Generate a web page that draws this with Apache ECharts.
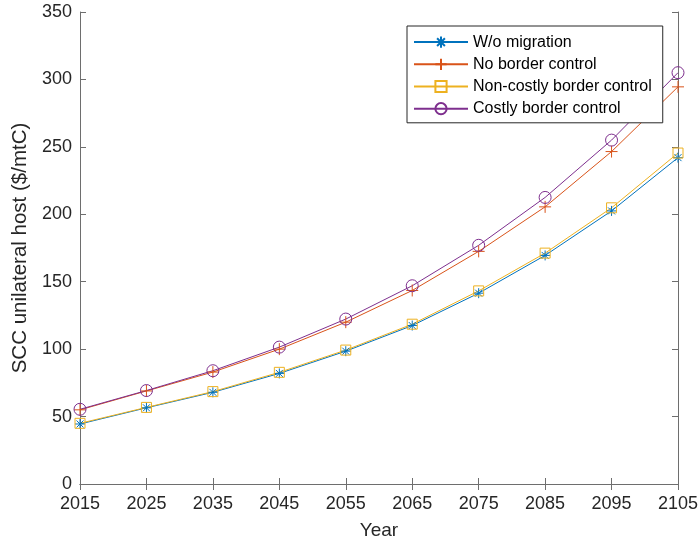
<!DOCTYPE html>
<html>
<head>
<meta charset="utf-8">
<script src="https://cdn.jsdelivr.net/npm/echarts@6/dist/echarts.min.js"></script>
<style>html,body{margin:0;padding:0;background:#fff}#c{width:698px;height:540px}</style>
</head>
<body>
<div id="c"></div>
<script>
const years = ['2015','2025','2035','2045','2055','2065','2075','2085','2095','2105'];
const woMigration = [44.5, 56.5, 68, 82, 98.5, 117.5, 141.5, 169.5, 202.5, 242];
const noBorderControl = [55, 69, 83, 100, 120, 143.5, 172.5, 205.5, 246.5, 294.5];
const nonCostlyBorderControl = [45, 56.8, 68.5, 82.8, 99.3, 118.5, 143.2, 171.2, 204.8, 245.4];
const costlyBorderControl = [55.4, 69.3, 84, 101.5, 122.3, 147, 177, 212.5, 255, 305];
const yTicks = [0, 50, 100, 150, 200, 250, 300, 350];

const FONT = 'Liberation Sans, Arial, Helvetica, sans-serif';
const AXC = '#6e6e6e';
const TXC = '#262626';

const starPath = 'path://M5,0L5,10M0,5L10,5M1.5,1.5L8.5,8.5M1.5,8.5L8.5,1.5';
const plusPath = 'path://M5,0L5,10M0,5L10,5';

function mk(name, data, color, symbol, size) {
  return {
    name, type: 'line', data, xAxisIndex: 0, yAxisIndex: 0,
    symbol, symbolSize: size, showAllSymbol: true,
    color,
    lineStyle: { color, width: 1 },
    itemStyle: { color: 'none', borderColor: color, borderWidth: 1 },
    emphasis: { disabled: true },
    animation: false
  };
}

const chart = echarts.init(document.getElementById('c'), null, { renderer: 'canvas' });
chart.setOption({
  backgroundColor: '#fff',
  animation: false,
  textStyle: { fontFamily: FONT },
  grid: { left: 80, right: 20, top: 12, bottom: 56, containLabel: false, outerBoundsMode: 'none' },
  legend: {
    orient: 'vertical', left: 407, top: 26,
    padding: [8, 11, 6, 6], itemGap: 6,
    itemWidth: 54, itemHeight: 14,
    backgroundColor: '#fff', borderColor: '#262626', borderWidth: 1,
    textStyle: { fontFamily: FONT, fontSize: 16, color: '#000' },
    data: ['W/o migration', 'No border control', 'Non-costly border control', 'Costly border control']
  },
  xAxis: [{
    type: 'category', data: years, boundaryGap: false,
    name: 'Year', nameLocation: 'middle', nameGap: 37,
    nameTextStyle: { fontFamily: FONT, fontSize: 19, color: TXC },
    axisLine: { lineStyle: { color: AXC, width: 1 } },
    axisTick: { inside: true, length: 6, alignWithLabel: true, lineStyle: { color: AXC } },
    axisLabel: { fontFamily: FONT, fontSize: 18, color: TXC, margin: 11, interval: 0 },
    splitLine: { show: false }
  }, {
    type: 'category', data: years, boundaryGap: false, position: 'top',
    axisLine: { lineStyle: { color: AXC, width: 1 } },
    axisTick: { inside: true, length: 6, lineStyle: { color: AXC } },
    axisLabel: { show: false }, splitLine: { show: false }
  }],
  yAxis: [{
    type: 'value', min: 0, max: 350, interval: 50,
    name: 'SCC unilateral host ($/mtC)', nameLocation: 'middle', nameGap: 36,
    nameTextStyle: { fontFamily: FONT, fontSize: 20.5, color: TXC },
    axisLine: { show: true, lineStyle: { color: AXC, width: 1 } },
    axisTick: { show: true, inside: true, length: 6, lineStyle: { color: AXC } },
    axisLabel: { fontFamily: FONT, fontSize: 18, color: TXC, margin: 8,
      formatter: v => yTicks.includes(v) ? String(v) : '' },
    splitLine: { show: false }
  }, {
    type: 'value', min: 0, max: 350, interval: 50, position: 'right',
    axisLine: { show: true, lineStyle: { color: AXC, width: 1 } },
    axisTick: { show: true, inside: true, length: 6, lineStyle: { color: AXC } },
    axisLabel: { show: false }, splitLine: { show: false }
  }],
  series: [
    mk('W/o migration', woMigration, '#0072BD', starPath, 10),
    mk('No border control', noBorderControl, '#D95319', plusPath, 12),
    mk('Non-costly border control', nonCostlyBorderControl, '#EDB120', 'rect', 10),
    mk('Costly border control', costlyBorderControl, '#7E2F8E', 'circle', 12)
  ]
});
</script>
</body>
</html>
